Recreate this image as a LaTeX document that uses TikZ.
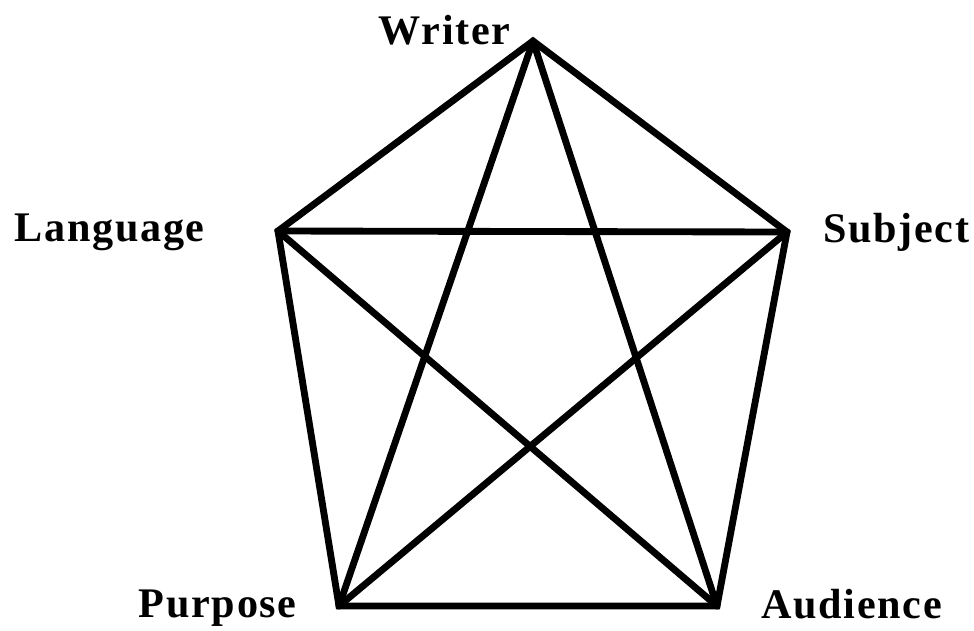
\documentclass[tikz,border=0pt]{standalone}
\usepackage{fontspec}
\setmainfont{Liberation Serif}
\newfontfamily\labelfont[LetterSpace=4]{Liberation Serif}
\usetikzlibrary{positioning}

\begin{document}
\begin{tikzpicture}[x=0.02cm,y=-0.02cm,
    every node/.style={font=\labelfont\bfseries\fontsize{24}{26}\selectfont,inner sep=0pt},
    edge/.style={line width=3.9pt,line join=miter,line cap=round}]
  \useasboundingbox (0,0) rectangle (974,630);

  % corners of the pentagon
  \coordinate (writer)   at (533,41);
  \coordinate (language) at (278,231);
  \coordinate (subject)  at (787,232);
  \coordinate (purpose)  at (339,606);
  \coordinate (audience) at (717,606);

  % outer ring, then the star inside it
  \draw[edge] (writer) -- (subject) -- (audience) -- (purpose) -- (language) -- cycle;
  \foreach \a/\b in {writer/purpose,writer/audience,language/subject,
                     language/audience,subject/purpose}
    \draw[edge] (\a) -- (\b);

  \node[anchor=base east] (writerlab)   at (511,44)  {Writer};
  \node[anchor=base east] (languagelab) at (205,241) {Language};
  \node[anchor=base west] (subjectlab)  at (823,242) {Subject};
  \node[anchor=base east] (purposelab)  at (297,617) {Purpose};
  \node[anchor=base west] (audiencelab) at (761,618) {Audience};
\end{tikzpicture}
\end{document}
